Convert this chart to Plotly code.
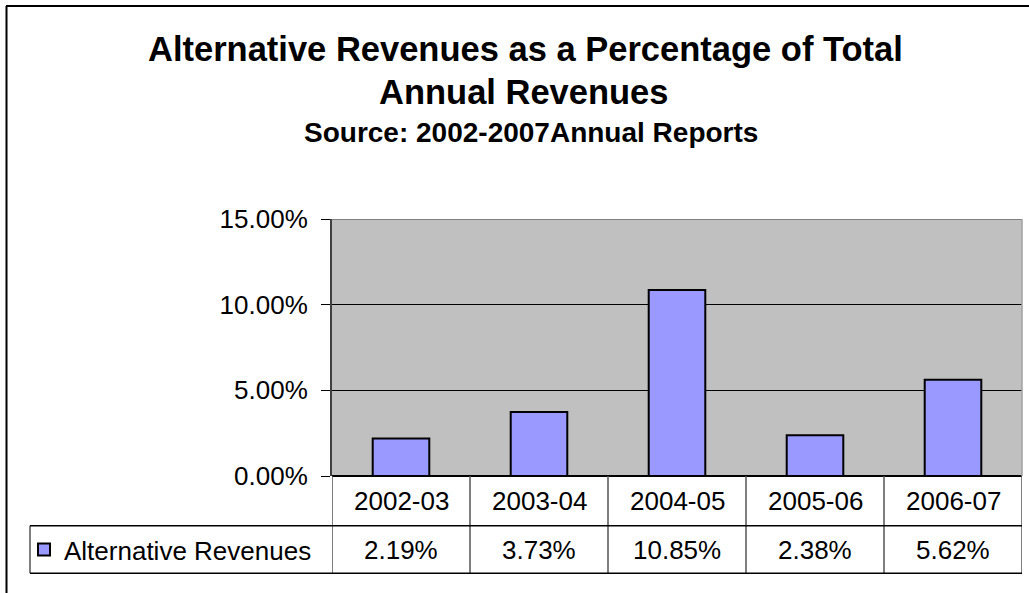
import plotly.graph_objects as go

# Fiscal years and alternative-revenue share of total annual revenues
years = ["2002-03", "2003-04", "2004-05", "2005-06", "2006-07"]
alt_share = [0.0219, 0.0373, 0.1085, 0.0238, 0.0562]
series_name = "Alternative Revenues"
y_ticks = [0.0, 0.05, 0.10, 0.15]

W, H = 1029, 593
L, R, T, B = 332, 7, 219, 117
PW, PH = W - L - R, H - T - B
FONT = "Arial, Liberation Sans, Helvetica, sans-serif"


def xp(px):
    return (px - L) / PW


def yp(py):
    return (H - B - py) / PH


fig = go.Figure()
fig.add_trace(go.Bar(
    x=years, y=alt_share, name=series_name, width=0.41,
    marker=dict(color="#9999FF", line=dict(color="black", width=2)),
))

row1_top, row1_bot, row2_bot = H - B, 525.7, 573.3
row1_mid = (row1_top + row1_bot) / 2
row2_mid = (row1_bot + row2_bot) / 2

shapes = []
# data-table grid
for i in range(len(years) + 1):
    shapes.append(dict(type="line", xref="x", yref="paper", x0=i - 0.5, x1=i - 0.5,
                       y0=yp(row1_top), y1=yp(row2_bot), line=dict(color="#555555", width=1.5)))
shapes.append(dict(type="line", xref="paper", yref="paper", x0=xp(30), x1=xp(30),
                   y0=yp(row1_bot), y1=yp(row2_bot), line=dict(color="#555555", width=1.5)))
for py in (row1_bot, row2_bot):
    shapes.append(dict(type="line", xref="paper", yref="paper", x0=xp(30), x1=1,
                       y0=yp(py), y1=yp(py), line=dict(color="black", width=1.5)))
# plot-area border (top and right)
shapes.append(dict(type="line", xref="paper", yref="y", x0=0, x1=1, y0=0.15, y1=0.15,
                   line=dict(color="#808080", width=2)))
shapes.append(dict(type="line", xref="paper", yref="paper", x0=1, x1=1, y0=0, y1=1,
                   line=dict(color="#A0A0A0", width=1.5)))
# chart frame (top and left edges)
shapes.append(dict(type="line", xref="paper", yref="paper", x0=xp(6), x1=xp(W + 5),
                   y0=yp(6), y1=yp(6), line=dict(color="black", width=2)))
shapes.append(dict(type="line", xref="paper", yref="paper", x0=xp(6.5), x1=xp(6.5),
                   y0=yp(6), y1=yp(H + 5), line=dict(color="black", width=2)))

annotations = []
for i, (yr, v) in enumerate(zip(years, alt_share)):
    annotations.append(dict(x=i, y=yp(row1_mid), xref="x", yref="paper", text=yr,
                            showarrow=False, font=dict(size=26, color="black", family=FONT),
                            xanchor="center", yanchor="middle"))
    annotations.append(dict(x=i, y=yp(row2_mid), xref="x", yref="paper", text=f"{v * 100:.2f}%",
                            showarrow=False, font=dict(size=26, color="black", family=FONT),
                            xanchor="center", yanchor="middle"))

# titles
annotations.append(dict(x=xp(525), y=yp(49), xref="paper", yref="paper",
                        text="<b>Alternative Revenues as a Percentage of Total</b>",
                        showarrow=False, font=dict(size=34.5, color="black", family=FONT),
                        xanchor="center", yanchor="middle"))
annotations.append(dict(x=xp(524), y=yp(92), xref="paper", yref="paper",
                        text="<b>Annual Revenues</b>",
                        showarrow=False, font=dict(size=34.5, color="black", family=FONT),
                        xanchor="center", yanchor="middle"))
annotations.append(dict(x=xp(531), y=yp(132), xref="paper", yref="paper",
                        text="<b>Source: 2002-2007Annual Reports</b>",
                        showarrow=False, font=dict(size=28, color="black", family=FONT),
                        xanchor="center", yanchor="middle"))

fig.update_layout(
    width=W, height=H,
    margin=dict(l=L, r=R, t=T, b=B),
    paper_bgcolor="white",
    plot_bgcolor="#C0C0C0",
    font=dict(family=FONT, color="black"),
    showlegend=True,
    legend=dict(x=xp(24), y=yp(row2_mid), xanchor="left", yanchor="middle",
                font=dict(size=26, color="black", family=FONT),
                bgcolor="rgba(0,0,0,0)", borderwidth=0),
    xaxis=dict(type="category", showticklabels=False, ticks="", showgrid=False,
               zeroline=False, showline=False, range=[-0.5, 4.5]),
    yaxis=dict(range=[0, 0.15], tickvals=y_ticks, tickformat=".2%",
               ticks="outside", ticklen=9, tickcolor="black", tickwidth=1,
               ticklabelstandoff=8,
               tickfont=dict(size=26, color="black", family=FONT),
               showgrid=True, gridcolor="black", gridwidth=1,
               zeroline=True, zerolinecolor="black", zerolinewidth=1.5,
               showline=True, linecolor="#404040", linewidth=2),
    shapes=shapes,
    annotations=annotations,
)

fig.write_html("out.html")
